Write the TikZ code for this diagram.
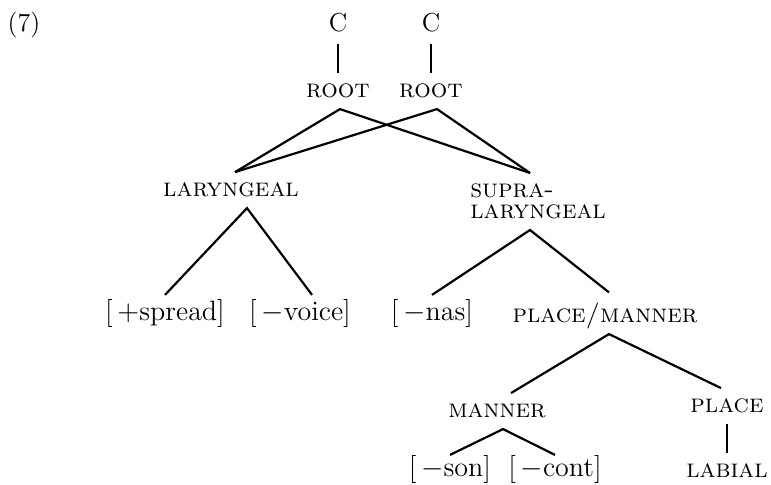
\documentclass[tikz,border=0pt]{standalone}
\usepackage{amssymb,amsfonts}
\usetikzlibrary{calc}

\begin{document}
\begin{tikzpicture}[x=0.5pt,y=-0.5pt,line width=1.1pt,
    lbl/.style={anchor=base,inner sep=5pt,font=\fontsize{13}{15}\selectfont},
    feat/.style={lbl,font=\fontsize{13}{15}\selectfont\scshape,text depth=0pt},
    leaf/.style={lbl,inner sep=2pt,font=\fontsize{14}{16}\selectfont},
    lowleaf/.style={leaf,inner sep=0pt}]
      \useasboundingbox (0,0) rectangle (771,485);
      \node[lbl] (num) at (24,32) {(7)};
      % the two C slots
      \node[lbl] (c1) at (338,32) {C};
      \node[lbl] (c2) at (431,32) {C};
      \node[feat] (root1) at (338,98) {root};
      \node[feat] (root2) at (431,98) {root};
      \node[feat] (lar) at (231,197) {laryngeal};
      \node[feat,anchor=north,align=left,font=\fontsize{13}{10.5}\selectfont\scshape] (supra) at (538,173) {supra-\\laryngeal};
      \node[leaf] (spread) at (165,321) {[\,$+$spread]};
      \node[leaf] (voice) at (300,321) {[\,$-$voice]};
      \node[leaf] (nas) at (432,321) {[\,$-$nas]};
      \node[feat] (pm) at (605,323) {place/manner};
      \node[feat] (man) at (497,418) {manner};
      \node[feat] (place) at (727,413) {place};
      \node[feat] (labial) at (727,478) {labial};
      \node[lowleaf] (son) at (450,477) {[\,$-$son]};
      \node[lowleaf] (cont) at (555,477) {[\,$-$cont]};
      \draw (c1.south)--(root1.north);
      \draw (c2.south)--(root2.north);
      \draw ([xshift=2pt]lar.north)--([xshift=1pt]root1.south)--([xshift=-4pt]supra.north);
      \draw ([xshift=2pt]lar.north)--([xshift=3pt]root2.south)--([xshift=-4pt]supra.north);
      \draw (spread.north)--([xshift=8pt]lar.south)--([xshift=6pt]voice.north);
      \draw (nas.north)--([xshift=-4pt]supra.south)--([xshift=2pt]pm.north);
      \draw ([xshift=7pt]man.north)--([xshift=2pt]pm.south)--([xshift=-3pt]place.north);
      \draw (son.north)--([xshift=3pt]man.south)--(cont.north);
      \draw (place.south)--(labial.north);
    \end{tikzpicture}
\end{document}
